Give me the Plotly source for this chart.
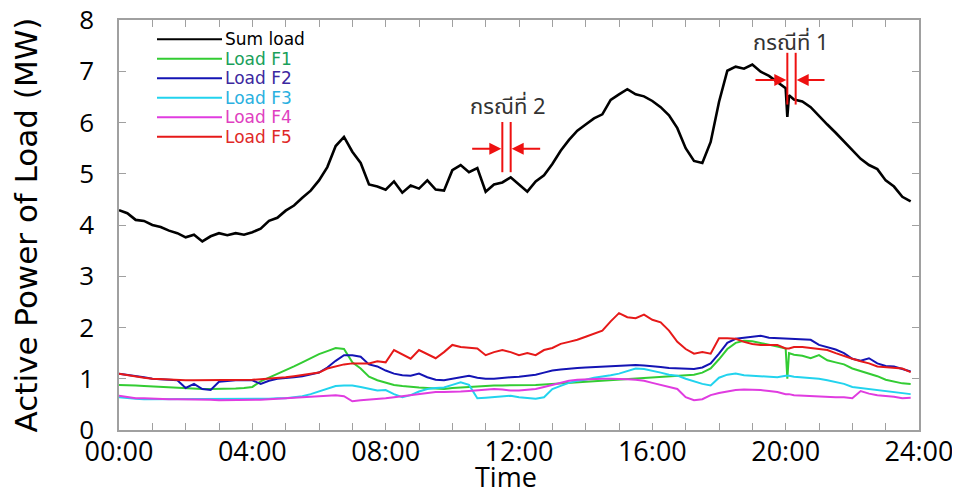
import plotly.graph_objects as go

# ---------------- data ----------------
# time axis in hours: 15-minute samples, with two extra samples just after 20:00
time_h = [i * 0.25 for i in range(0, 80)] + [20.0, 20.05, 20.1] + [i * 0.25 for i in range(81, 96)]

series_names = ["Sum load", "Load F1", "Load F2", "Load F3", "Load F4", "Load F5"]

sum_load = [
    4.29, 4.23, 4.10, 4.08,  4.00, 3.96, 3.89, 3.84,  3.76, 3.81, 3.68, 3.78,
    3.84, 3.80, 3.84, 3.81,  3.86, 3.93, 4.08, 4.14,  4.28, 4.38, 4.53, 4.67,
    4.87, 5.13, 5.54, 5.72,  5.43, 5.21, 4.79, 4.75,  4.69, 4.85, 4.63, 4.77,
    4.71, 4.87, 4.69, 4.67,  5.07, 5.17, 5.03, 5.11,  4.65, 4.79, 4.83, 4.93,
    4.79, 4.65, 4.85, 4.97,  5.19, 5.45, 5.66, 5.84,  5.96, 6.08, 6.16, 6.44,
    6.55, 6.65, 6.55, 6.51,  6.42, 6.30, 6.14, 5.89,  5.50, 5.25, 5.21, 5.62,
    6.40, 7.01, 7.09, 7.05,  7.13, 6.99, 6.91, 6.79,
    6.67, 6.11, 6.53, 6.45, 6.41, 6.30,
    6.12, 5.96, 5.80, 5.64,  5.46, 5.29, 5.17, 5.09,  4.87, 4.75, 4.55, 4.46,
]
load_f1 = [
    0.88, 0.88, 0.87, 0.86,  0.85, 0.84, 0.83, 0.82,  0.81, 0.80, 0.80, 0.80,
    0.80, 0.80, 0.81, 0.82,  0.84, 0.95, 1.02, 1.10,  1.16, 1.24, 1.32, 1.40,
    1.48, 1.54, 1.60, 1.58,  1.32, 1.20, 1.04, 0.97,  0.92, 0.88, 0.86, 0.84,
    0.83, 0.82, 0.81, 0.80,  0.82, 0.83, 0.85, 0.86,  0.87, 0.87, 0.87, 0.87,
    0.87, 0.88, 0.88, 0.89,  0.90, 0.92, 0.92, 0.93,  0.94, 0.96, 0.97, 0.98,
    0.98, 0.99, 1.00, 1.01,  1.02, 1.03, 1.04, 1.05,  1.06, 1.08, 1.12, 1.20,
    1.38, 1.58, 1.70, 1.74,  1.73, 1.70, 1.67, 1.63,
    1.59, 1.00, 1.50, 1.47, 1.45, 1.40,
    1.46, 1.36, 1.32, 1.28,  1.20, 1.15, 1.10, 1.05,  0.98, 0.94, 0.91, 0.90,
]
load_f2 = [
    1.10, 1.08, 1.05, 1.03,  1.00, 0.99, 0.98, 0.97,  0.82, 0.90, 0.80, 0.78,
    0.94, 0.96, 0.97, 0.97,  0.97, 0.90, 0.96, 1.00,  1.01, 1.03, 1.05, 1.08,
    1.12, 1.22, 1.35, 1.46,  1.46, 1.43, 1.28, 1.24,  1.16, 1.10, 1.07, 1.06,
    1.10, 1.03, 0.98, 0.97,  1.00, 1.03, 1.06, 1.02,  1.00, 1.00, 1.02, 1.03,
    1.04, 1.06, 1.08, 1.12,  1.16, 1.18, 1.20, 1.21,  1.22, 1.23, 1.24, 1.25,
    1.26, 1.27, 1.27, 1.26,  1.25, 1.23, 1.21, 1.20,  1.19, 1.19, 1.22, 1.30,
    1.49, 1.70, 1.78, 1.80,  1.83, 1.84, 1.80, 1.79,
    1.79, 1.79, 1.79, 1.77, 1.76, 1.76,
    1.66, 1.62, 1.57, 1.50,  1.39, 1.35, 1.40, 1.30,  1.25, 1.24, 1.19, 1.14,
]
load_f3 = [
    0.64, 0.62, 0.61, 0.60,  0.60, 0.60, 0.60, 0.60,  0.60, 0.60, 0.60, 0.60,
    0.60, 0.60, 0.60, 0.60,  0.60, 0.61, 0.61, 0.62,  0.62, 0.64, 0.66, 0.70,
    0.75, 0.80, 0.86, 0.87,  0.87, 0.84, 0.80, 0.77,  0.78, 0.70, 0.64, 0.68,
    0.75, 0.80, 0.82, 0.83,  0.88, 0.93, 0.88, 0.62,  0.63, 0.64, 0.66, 0.67,
    0.64, 0.62, 0.61, 0.64,  0.80, 0.86, 0.92, 0.96,  0.98, 1.02, 1.04, 1.07,
    1.10, 1.15, 1.20, 1.19,  1.16, 1.12, 1.08, 1.06,  1.00, 0.95, 0.90, 0.87,
    1.02, 1.08, 1.10, 1.07,  1.06, 1.06, 1.04, 1.03,
    1.06, 1.06, 1.06, 1.04, 1.03, 1.01,
    1.00, 0.97, 0.93, 0.90,  0.84, 0.82, 0.80, 0.78,  0.77, 0.74, 0.72, 0.70,
]
load_f4 = [
    0.67, 0.64, 0.62, 0.62,  0.61, 0.61, 0.60, 0.60,  0.60, 0.60, 0.59, 0.59,
    0.58, 0.58, 0.58, 0.58,  0.58, 0.59, 0.60, 0.61,  0.62, 0.62, 0.63, 0.64,
    0.65, 0.66, 0.68, 0.66,  0.56, 0.58, 0.59, 0.60,  0.62, 0.64, 0.66, 0.68,
    0.70, 0.72, 0.74, 0.74,  0.74, 0.75, 0.76, 0.77,  0.78, 0.80, 0.79, 0.77,
    0.77, 0.78, 0.80, 0.84,  0.88, 0.92, 0.96, 0.98,  0.99, 1.00, 1.00, 1.00,
    1.00, 0.99, 0.98, 0.96,  0.92, 0.88, 0.84, 0.80,  0.64, 0.58, 0.60, 0.68,
    0.72, 0.75, 0.78, 0.79,  0.79, 0.78, 0.76, 0.74,
    0.70, 0.70, 0.70, 0.68, 0.67, 0.67,
    0.66, 0.65, 0.64, 0.64,  0.62, 0.76, 0.71, 0.68,  0.67, 0.65, 0.62, 0.63,
]
load_f5 = [
    1.10, 1.07, 1.04, 1.02,  1.00, 0.99, 0.98, 0.97,  0.97, 0.97, 0.97, 0.97,
    0.97, 0.97, 0.98, 0.98,  0.98, 0.99, 1.00, 1.01,  1.03, 1.05, 1.07, 1.09,
    1.12, 1.20, 1.24, 1.28,  1.30, 1.30, 1.30, 1.34,  1.32, 1.56, 1.48, 1.39,
    1.56, 1.48, 1.40, 1.52,  1.66, 1.62, 1.60, 1.59,  1.46, 1.52, 1.56, 1.52,
    1.46, 1.50, 1.46, 1.56,  1.60, 1.68, 1.72, 1.76,  1.82, 1.88, 1.94, 2.12,
    2.28, 2.20, 2.18, 2.25,  2.15, 2.10, 1.94, 1.72,  1.58, 1.49, 1.52, 1.49,
    1.79, 1.79, 1.78, 1.72,  1.68, 1.66, 1.66, 1.66,
    1.59, 1.59, 1.59, 1.62, 1.62, 1.60,
    1.58, 1.56, 1.50, 1.44,  1.39, 1.34, 1.30, 1.24,  1.23, 1.21, 1.20, 1.13,
]
series_values = [sum_load, load_f1, load_f2, load_f3, load_f4, load_f5]

tick_hours = list(range(0, 25))
tick_labels = [f"{h:02d}:00" if h % 4 == 0 else "" for h in tick_hours]

# case markers (กรณีที่ 1 / 2)
case_labels = ["กรณีที่ 1", "กรณีที่ 2"]
case_label_x = [20.16, 11.67]
case_label_y = [7.55, 6.30]
case_line_x0 = [20.05, 11.50]
case_line_x1 = [20.30, 11.75]
case_line_ylo = [6.35, 5.03]
case_line_yhi = [7.36, 6.01]
case_arrow_y = [6.83, 5.49]
case_arrow_left_from = [19.05, 10.55]
case_arrow_right_from = [21.21, 12.68]

# ---------------- style ----------------
line_colors = ["#000000", "#33cc33", "#1414b4", "#22d3ee", "#e03ce0", "#e61919"]
text_colors = ["#000000", "#1aa05a", "#3c28a0", "#2ab0e0", "#e040c0", "#e02828"]
line_widths = [2.6, 2, 2, 2, 2, 2]

# page has an 8 px body margin, so the figure is sized to fit inside it
PAGE_OFF = 8
PLOT_LEFT, PLOT_TOP, PLOT_W, PLOT_H = 119, 20, 800, 410   # in page pixels
W, H = 960 - PAGE_OFF, 492 - PAGE_OFF
L = PLOT_LEFT - PAGE_OFF
T = PLOT_TOP - PAGE_OFF
R = W - L - PLOT_W
B = H - T - PLOT_H


def px_to_paper_x(px):
    return (px - PLOT_LEFT) / PLOT_W


def px_to_paper_y(py):
    return (PLOT_TOP + PLOT_H - py) / PLOT_H


fig = go.Figure()
for name, vals, col, lw in zip(series_names, series_values, line_colors, line_widths):
    assert len(vals) == len(time_h), (name, len(vals))
    fig.add_trace(go.Scatter(x=time_h, y=vals, mode="lines", name=name,
                             line=dict(color=col, width=lw), showlegend=False))

# series legend (compact, as in the reference)
for i, (name, col, tcol) in enumerate(zip(series_names, line_colors, text_colors)):
    yy = px_to_paper_y(39.3 + i * 19.5)
    fig.add_shape(type="line", xref="paper", yref="paper",
                  x0=px_to_paper_x(157), x1=px_to_paper_x(222), y0=yy, y1=yy,
                  line=dict(color=col, width=2))
    fig.add_annotation(xref="paper", yref="paper", x=px_to_paper_x(223), y=yy,
                       text=name, showarrow=False, xanchor="left", yanchor="middle",
                       font=dict(family="DejaVu Sans", size=17, color=tcol))

red = "#ee1111"
for k in range(len(case_labels)):
    for xv in (case_line_x0[k], case_line_x1[k]):
        fig.add_shape(type="line", xref="x", yref="y", x0=xv, x1=xv,
                      y0=case_line_ylo[k], y1=case_line_yhi[k],
                      line=dict(color=red, width=2))
    fig.add_annotation(x=case_line_x0[k] - 0.03, y=case_arrow_y[k], ax=case_arrow_left_from[k],
                       ay=case_arrow_y[k], axref="x", ayref="y", xref="x", yref="y",
                       text="", showarrow=True, arrowhead=2, arrowsize=1.2,
                       arrowwidth=2, arrowcolor=red)
    fig.add_annotation(x=case_line_x1[k] + 0.03, y=case_arrow_y[k], ax=case_arrow_right_from[k],
                       ay=case_arrow_y[k], axref="x", ayref="y", xref="x", yref="y",
                       text="", showarrow=True, arrowhead=2, arrowsize=1.2,
                       arrowwidth=2, arrowcolor=red)
    fig.add_annotation(x=case_label_x[k], y=case_label_y[k], xref="x", yref="y",
                       text=case_labels[k], showarrow=False,
                       font=dict(family="Noto Sans Thai, Tahoma, DejaVu Sans, sans-serif",
                                 size=22, color="#333333"))

# x-axis title
fig.add_annotation(xref="paper", yref="paper", x=px_to_paper_x(506), y=px_to_paper_y(476),
                   text="Time", showarrow=False, xanchor="center", yanchor="middle",
                   borderpad=0, font=dict(family="Open Sans", size=27, color="#000000"))

axis_common = dict(showline=True, linecolor="#a0a0a0", linewidth=1.5, mirror="ticks",
                   ticks="inside", ticklen=7, tickcolor="#a0a0a0", tickwidth=1.2,
                   showgrid=False, zeroline=False, ticklabeloverflow="allow")

fig.update_xaxes(range=[0, 24], tickmode="array", tickvals=tick_hours, ticktext=tick_labels,
                 tickfont=dict(family="Open Sans", size=27, color="#000000"),
                 ticklabelstandoff=-3, **axis_common)
fig.update_yaxes(range=[0, 8], tickmode="array", tickvals=list(range(0, 9)),
                 tickfont=dict(family="Open Sans", size=26, color="#000000"),
                 ticklabelstandoff=18,
                 title=dict(text="Active Power of Load (MW)", standoff=41,
                            font=dict(family="DejaVu Sans", size=31, color="#000000")),
                 **axis_common)

fig.update_layout(width=W, height=H, margin=dict(l=L, r=R, t=T, b=B, autoexpand=False),
                  plot_bgcolor="white", paper_bgcolor="white", showlegend=False)

fig.write_html("out.html")
